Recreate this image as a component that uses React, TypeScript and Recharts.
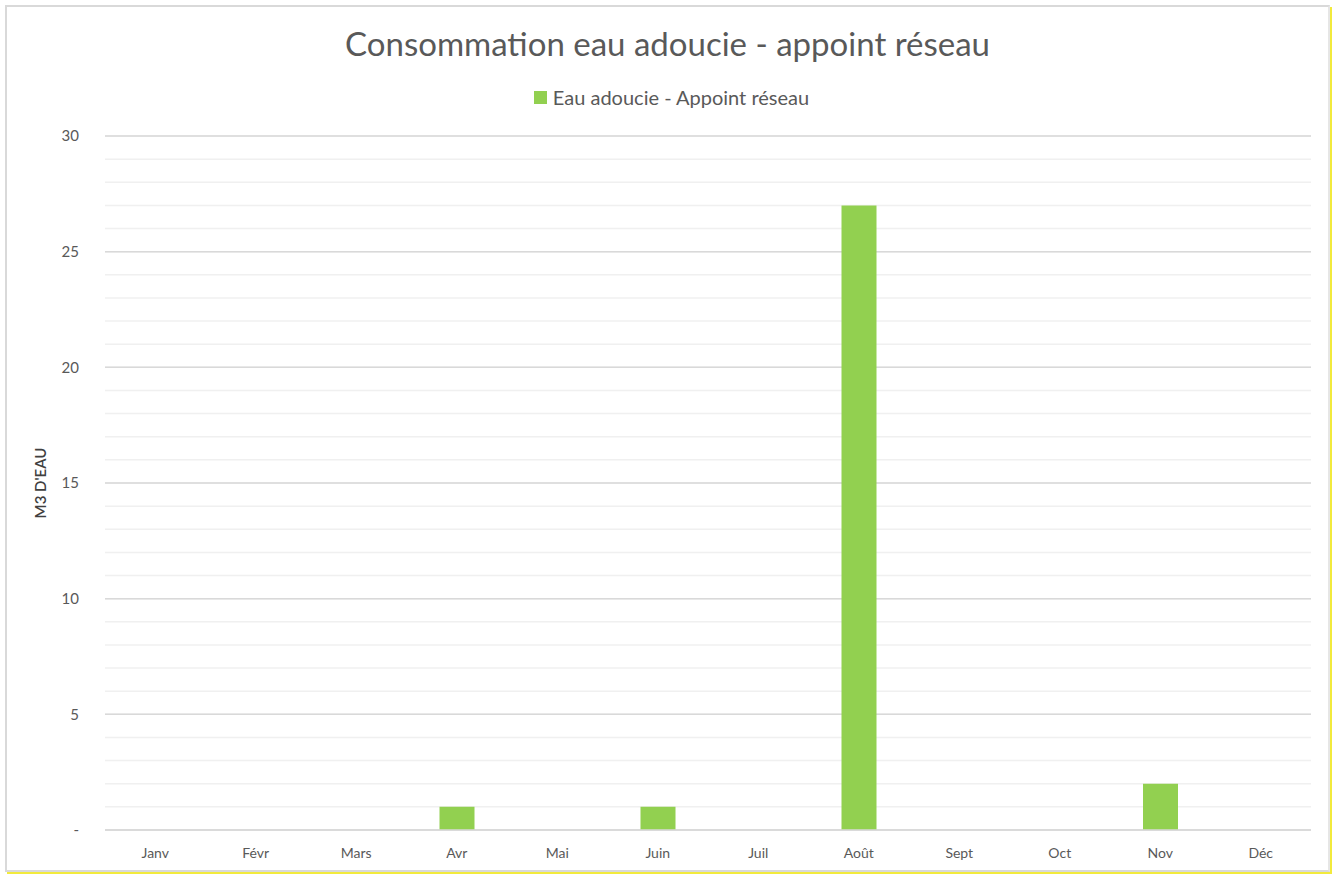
import React from "react";
import { BarChart, Bar, XAxis, YAxis, CartesianGrid, Label } from "recharts";

const MONTHS = ["Janv", "Févr", "Mars", "Avr", "Mai", "Juin", "Juil", "Août", "Sept", "Oct", "Nov", "Déc"];
const VALUES = [0, 0, 0, 1, 0, 1, 0, 27, 0, 0, 2, 0];
const MAJOR_TICKS = [0, 5, 10, 15, 20, 25, 30];
const MINOR_TICKS = [
  0, 1, 2, 3, 4, 5, 6, 7, 8, 9, 10, 11, 12, 13, 14, 15, 16, 17, 18, 19, 20, 21, 22, 23, 24, 25, 26, 27, 28, 29, 30,
];

const SERIES_NAME = "Eau adoucie - Appoint réseau";
const GREEN = "#92D050";
const TEXT = "#595959";
const FONT = "Lato, 'Liberation Sans', sans-serif";

const data = MONTHS.map((m, i) => ({ month: m, value: VALUES[i] }));

export default function App() {
  return (
    <div
      style={{
        position: "fixed",
        left: 0,
        top: 0,
        width: 1335,
        height: 875,
        background: "#fff",
        fontFamily: FONT,
      }}
    >
      {/* outer frame */}
      <div
        style={{
          position: "absolute",
          left: 5,
          top: 5,
          width: 1325,
          height: 867,
          border: "2px solid #d9d9d9",
          borderRightColor: "#e6e6e6",
          boxSizing: "border-box",
          boxShadow: "2px 2px 0 #f2ea3c",
        }}
      />
      <div
        style={{
          position: "absolute",
          top: 23,
          width: 1335,
          textAlign: "center",
          fontSize: 33,
          color: TEXT,
        }}
      >
        Consommation eau adoucie - appoint réseau
      </div>
      {/* legend */}
      <div
        style={{
          position: "absolute",
          top: 85,
          left: 4,
          width: 1335,
          display: "flex",
          justifyContent: "center",
          alignItems: "center",
          gap: 6,
        }}
      >
        <span style={{ width: 13, height: 13, background: GREEN, display: "inline-block" }} />
        <span style={{ fontSize: 20, color: TEXT }}>{SERIES_NAME}</span>
      </div>
      <div style={{ position: "absolute", left: 0, top: 0 }}>
        <BarChart
          width={1335}
          height={875}
          data={data}
          margin={{ top: 136, right: 24, bottom: 15, left: 25 }}
        >
          <CartesianGrid vertical={false} horizontalValues={MINOR_TICKS} stroke="#f0f0f0" strokeWidth={1.5} />
          <CartesianGrid vertical={false} horizontalValues={MAJOR_TICKS} stroke="#d9d9d9" strokeWidth={1.5} />
          <XAxis
            dataKey="month"
            height={30}
            axisLine={{ stroke: "#d9d9d9", strokeWidth: 1.5 }}
            tickLine={false}
            tick={{ fill: TEXT, fontSize: 14, fontFamily: FONT }}
            tickMargin={12}
          />
          <YAxis
            width={80}
            domain={[0, 30]}
            ticks={MAJOR_TICKS}
            interval={0}
            axisLine={false}
            tickLine={false}
            tickMargin={20}
            tickFormatter={(v: number) => (v === 0 ? "-" : String(v))}
            tick={{ fill: TEXT, fontSize: 15, fontFamily: FONT }}
          >
            <Label
              value="M3 D'EAU"
              angle={-90}
              position="insideLeft"
              offset={16}
              style={{ fill: "#404040", fontSize: 15, fontWeight: 600, fontFamily: FONT, textAnchor: "middle" }}
            />
          </YAxis>
          <Bar dataKey="value" name={SERIES_NAME} fill={GREEN} barSize={35} isAnimationActive={false} />
        </BarChart>
      </div>
    </div>
  );
}
